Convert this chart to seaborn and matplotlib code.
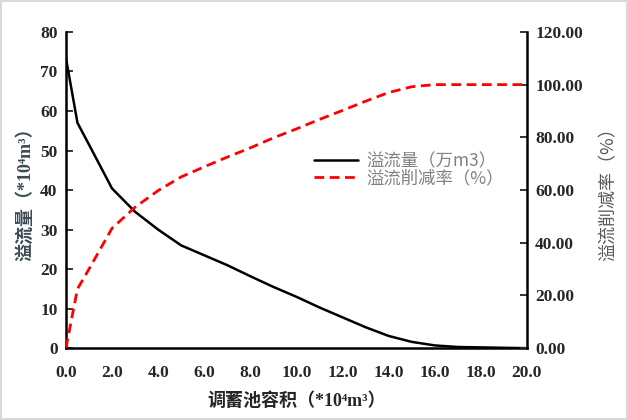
import numpy as np
import pandas as pd
import seaborn as sns
import matplotlib.pyplot as plt
from matplotlib.patches import Rectangle

# data
volume = [0, 0.5, 1, 2, 3, 4, 5, 6, 7, 8, 9, 10, 11, 12, 13, 14, 15, 16, 17, 18, 19, 20]
overflow = [73.4, 57, 51.5, 40.4, 34.5, 30, 26, 23.5, 21, 18.2, 15.5, 13, 10.3, 7.8,
            5.3, 3.1, 1.6, 0.7, 0.3, 0.2, 0.1, 0.0]
reduction = [0, 22.5, 30, 45.5, 53.5, 59.8, 65, 68.8, 72.5, 76, 79.8, 83.2, 86.8, 90.2,
             93.7, 97, 99.2, 100, 100, 100, 100, 100]
xticks = np.arange(0, 20.1, 2)
left_ticks = np.arange(0, 81, 10)
right_ticks = np.arange(0, 121, 20)

df = pd.DataFrame({"volume": volume, "overflow": overflow, "reduction": reduction})

sns.set_style("white")
plt.rcParams["font.family"] = ["Liberation Serif", "Noto Sans CJK SC", "DejaVu Sans"]
cjk = ["Noto Sans CJK SC", "DejaVu Sans"]

fig = plt.figure(figsize=(6.28, 4.2), dpi=100)
ax = fig.add_axes([0.105, 0.171, 0.734, 0.753])
ax2 = ax.twinx()

sns.lineplot(data=df, x="volume", y="overflow", ax=ax, color="black", lw=1.8,
             label="溢流量（万m3）", legend=False)
sns.lineplot(data=df, x="volume", y="reduction", ax=ax2, color="#ff0000", lw=2.0,
             linestyle=(0, (3.5, 2)), label="溢流削减率（%）", legend=False)

ax.set_xlim(0, 20)
ax.set_ylim(0, 80)
ax2.set_ylim(0, 120)
ax.set_xticks(xticks)
ax.set_xticklabels([f"{v:.1f}" for v in xticks])
ax.set_yticks(left_ticks)
ax2.set_yticks(right_ticks)
ax2.set_yticklabels([f"{v:.2f}" for v in right_ticks])

for a in (ax, ax2):
    for s in a.spines.values():
        s.set_visible(False)
    a.tick_params(direction="in", length=5, width=1.3, labelsize=12.5, pad=6)
    for lab in a.get_xticklabels() + a.get_yticklabels():
        lab.set_fontweight("bold")
ax.spines["left"].set_visible(True)
ax.spines["bottom"].set_visible(True)
ax2.spines["right"].set_visible(True)
for s in (ax.spines["left"], ax.spines["bottom"], ax2.spines["right"]):
    s.set_linewidth(1.8)
    s.set_color("black")
ax.tick_params(axis="x", pad=12)

ax.set_xlabel("调蓄池容积（*10⁴m³）", fontsize=13, fontweight="bold",
              family=["Liberation Serif", "Noto Sans CJK SC"], labelpad=8)
ax.set_ylabel("溢流量（*10⁴m³）", fontsize=13, fontweight="bold", color="#3b4b55",
              family=["Liberation Serif", "Noto Sans CJK SC"], labelpad=4)
ax2.set_ylabel("溢流削减率（%）", fontsize=13, color="#595959", family=cjk, labelpad=12)

h1, l1 = ax.get_legend_handles_labels()
h2, l2 = ax2.get_legend_handles_labels()
leg = ax2.legend(h1 + h2, l1 + l2, loc="upper left", bbox_to_anchor=(0.505, 0.67),
                 frameon=False, handlelength=2.5, handletextpad=0.5,
                 labelspacing=-0.05, prop={"family": cjk, "size": 12.5})
for t in leg.get_texts():
    t.set_color("#808080")

fig.patches.append(Rectangle((0.002, 0.002), 0.996, 0.995, transform=fig.transFigure,
                             fill=False, edgecolor="#d9d9d9", lw=1.5))

fig.savefig("out.png", dpi=100)
